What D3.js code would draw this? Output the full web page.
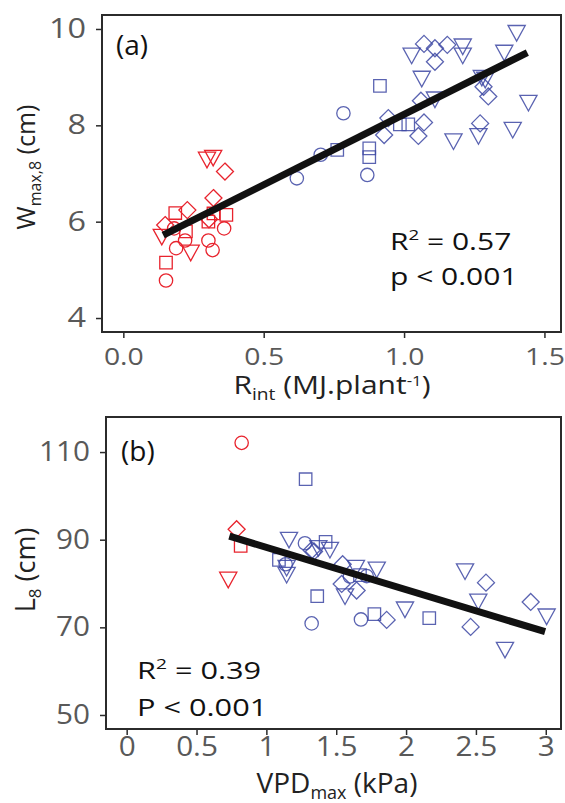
<!DOCTYPE html>
<html><head><meta charset="utf-8">
<script src="https://cdn.jsdelivr.net/npm/d3@7"></script>
<style>body{margin:0;background:#fff}svg{display:block}</style>
</head><body>
<script>
// ---------- Panel (a) data ----------
const aX = [0.298,0.320,0.362,0.321,0.228,0.149,0.305,0.185,0.223,0.152,0.321,0.367,0.303,0.181,0.188,0.220,0.152,0.359,0.303,0.318,0.137,0.240,
  0.618,0.703,0.784,0.869,0.762,0.914,0.876,0.876,0.985,1.015,0.944,0.929,1.060,1.071,1.051,1.071,1.110,1.110,1.154,1.271,1.300,1.283,
  1.110,1.063,1.027,1.209,1.209,1.176,1.265,1.277,1.289,1.357,1.401,1.443,1.387];
const aY = [7.28,7.32,7.04,6.49,6.24,5.93,6.05,6.18,5.80,5.15,6.17,6.14,6.00,5.86,5.45,5.61,4.78,5.86,5.61,5.41,5.68,5.35,
  6.90,7.39,8.25,6.97,7.49,8.82,7.52,7.34,8.02,8.02,8.15,7.80,8.51,8.06,7.78,9.69,9.60,9.32,9.67,8.04,8.60,8.80,
  8.53,8.96,9.44,9.63,9.44,7.66,7.77,8.98,8.94,9.50,9.91,8.46,7.90];
const aShape = ["v","v","d","d","d","d","d","s","s","s","s","s","s","o","o","o","o","o","o","o","v","v",
  "o","o","o","o","s","s","s","s","s","s","d","d","d","d","d","d","d","d","d","d","d","d",
  "v","v","v","v","v","v","v","v","v","v","v","v","v"];
const aGroup = aX.map((_, i) => i < 22 ? "red" : "blue");
const aLineX = [0.142, 1.439];
const aLineY = [5.72, 9.51];
const aXTicks = [0.0, 0.5, 1.0, 1.5];
const aYTicks = [4, 6, 8, 10];

// ---------- Panel (b) data ----------
const bX = [0.823,0.787,0.816,0.727,
  1.281,1.162,1.276,1.324,1.090,1.138,1.145,1.145,1.372,1.424,1.455,1.341,1.546,1.641,1.790,1.718,1.670,1.598,1.539,1.563,1.646,1.364,
  1.324,1.677,1.773,1.861,1.992,2.166,2.422,2.572,2.517,2.462,2.892,3.006,2.708];
const bY = [112.1,92.4,88.6,80.8,
  103.8,89.9,89.2,87.6,85.4,84.4,81.9,83.5,88.0,89.5,87.6,87.3,84.4,83.5,83.1,81.7,81.9,81.6,79.9,77.0,78.4,77.1,
  70.9,71.8,73.0,71.7,74.0,72.1,82.7,80.2,75.8,70.1,75.8,72.4,64.8];
const bShape = ["o","d","s","v",
  "s","v","o","d","s","o","v","v","v","s","v","d","d","v","v","o","s","o","d","v","d","s",
  "o","o","s","d","v","s","v","d","v","d","d","v","v"];
const bGroup = bX.map((_, i) => i < 4 ? "red" : "blue");
const bLineX = [0.735, 2.995];
const bLineY = [90.8, 69.0];
const bXTicks = [0, 0.5, 1, 1.5, 2, 2.5, 3];
const bYTicks = [50, 70, 90, 110];

const colors = {red: "#e8232d", blue: "#3d48a3"};
const FONT = "'Open Sans', sans-serif";

const W = 565, H = 803;
const svg = d3.select("body").append("svg").attr("width", W).attr("height", H);

function markerPath(shape) {
  if (shape === "o") return d3.symbol(d3.symbolCircle, 140)();
  if (shape === "s") return d3.symbol(d3.symbolSquare, 155)();
  if (shape === "d") { const h = 8.5; return `M0,${-h}L${h},0L0,${h}L${-h},0Z`; }
  const w = 8.6, hh = 7.8;
  return `M${-w},${-hh}L${w},${-hh}L0,${hh}Z`;
}

function stretchTicks(sel, sx) {
  sel.selectAll("text").each(function() {
    const t = d3.select(this);
    const x0 = +t.attr("x") || 0;
    t.attr("x", x0 / sx).attr("transform", `scale(${sx},1)`);
  });
}

function panel(cfg) {
  const g = svg.append("g");
  const x = d3.scaleLinear().domain(cfg.xDom).range([cfg.left, cfg.right]);
  const y = d3.scaleLinear().domain(cfg.yDom).range([cfg.bottom, cfg.top]);

  g.append("g").selectAll("path").data(cfg.xs.map((v, i) => i)).join("path")
    .attr("d", i => markerPath(cfg.shapes[i]))
    .attr("transform", i => `translate(${x(cfg.xs[i])},${y(cfg.ys[i])})`)
    .attr("fill", "none")
    .attr("stroke", i => colors[cfg.groups[i]])
    .attr("stroke-opacity", i => cfg.groups[i] === "blue" ? 0.85 : 1)
    .attr("stroke-width", 1.3);

  g.append("line")
    .attr("x1", x(cfg.lineX[0])).attr("y1", y(cfg.lineY[0]))
    .attr("x2", x(cfg.lineX[1])).attr("y2", y(cfg.lineY[1]))
    .attr("stroke", "#111").attr("stroke-width", 7);

  g.append("rect").attr("x", cfg.left).attr("y", cfg.top)
    .attr("width", cfg.right - cfg.left).attr("height", cfg.bottom - cfg.top)
    .attr("fill", "none").attr("stroke", "#2b2b2b").attr("stroke-width", 2);

  const ya = g.append("g").attr("transform", `translate(${cfg.left - 1},0)`)
    .call(d3.axisLeft(y).tickValues(cfg.yTicks).tickSize(5).tickPadding(cfg.yPad).tickFormat(d3.format("d")));
  ya.select(".domain").remove();
  ya.selectAll("line").attr("stroke", "#2b2b2b").attr("stroke-width", 1.5);
  ya.selectAll("text").attr("font-family", FONT).attr("font-size", cfg.yFont).attr("fill", "#595959");
  stretchTicks(ya, cfg.ySx);

  const xa = g.append("g").attr("transform", `translate(0,${cfg.bottom + 1})`)
    .call(d3.axisBottom(x).tickValues(cfg.xTicks).tickSize(5).tickPadding(cfg.xPad).tickFormat(cfg.xFmt));
  xa.select(".domain").remove();
  xa.selectAll("line").attr("stroke", "#2b2b2b").attr("stroke-width", 1.5);
  xa.selectAll("text").attr("font-family", FONT).attr("font-size", cfg.xFont).attr("fill", "#595959");
  stretchTicks(xa, cfg.xSx);

  return {g, x, y};
}

panel({
  xs: aX, ys: aY, shapes: aShape, groups: aGroup, lineX: aLineX, lineY: aLineY,
  xDom: [-0.076, 1.559], yDom: [3.71, 10.29],
  left: 102, right: 561, top: 15, bottom: 332,
  xTicks: aXTicks, yTicks: aYTicks, xFmt: d3.format(".1f"),
  yFont: 27, xFont: 24, yPad: 10, xPad: 10, ySx: 1.2, xSx: 1.18
});
panel({
  xs: bX, ys: bY, shapes: bShape, groups: bGroup, lineX: bLineX, lineY: bLineY,
  xDom: [-0.148, 3.109], yDom: [46.8, 118.0],
  left: 106, right: 561, top: 417, bottom: 729,
  xTicks: bXTicks, yTicks: bYTicks, xFmt: d => String(d),
  yFont: 27, xFont: 27, yPad: 10, xPad: 2, ySx: 1.1, xSx: 1.1
});

function txt(x, y, size, fill, anchor, sx) {
  return svg.append("text").attr("x", 0).attr("y", 0)
    .attr("transform", `translate(${x},${y}) scale(${sx || 1},1)`)
    .attr("font-family", FONT)
    .attr("font-size", size).attr("fill", fill).attr("text-anchor", anchor || "start");
}

txt(116, 55, 28, "#111").text("(a)");
txt(121, 461, 28, "#111").text("(b)");

let t = txt(390, 250, 24, "#111", "start", 1.25);
t.append("tspan").text("R");
t.append("tspan").attr("font-size", 15).attr("dy", -10).text("2");
t.append("tspan").attr("dy", 10).text(" = 0.57");
txt(390, 285, 24, "#111", "start", 1.25).text("p < 0.001");

t = txt(137, 679, 24, "#111", "start", 1.28);
t.append("tspan").text("R");
t.append("tspan").attr("font-size", 15).attr("dy", -10).text("2");
t.append("tspan").attr("dy", 10).text(" = 0.39");
txt(137, 716, 24, "#111", "start", 1.28).text("P < 0.001");

t = txt(332, 394, 25, "#222", "middle", 1.2);
t.append("tspan").text("R");
t.append("tspan").attr("font-size", 16).attr("dy", 6).text("int");
t.append("tspan").attr("dy", -6).text(" (MJ.plant");
t.append("tspan").attr("font-size", 14).attr("dy", -8).text("-1");
t.append("tspan").attr("dy", 8).text(")");

t = txt(0, 0, 25, "#222", "middle").attr("transform", "translate(35,167) rotate(-90)");
t.append("tspan").text("W");
t.append("tspan").attr("font-size", 16).attr("dy", 6).text("max,8");
t.append("tspan").attr("dy", -6).text(" (cm)");

t = txt(337, 793, 28, "#222", "middle");
t.append("tspan").text("VPD");
t.append("tspan").attr("font-size", 18).attr("dy", 6).text("max");
t.append("tspan").attr("dy", -6).text(" (kPa)");

t = txt(0, 0, 27, "#222", "middle").attr("transform", "translate(35,570) rotate(-90)");
t.append("tspan").text("L");
t.append("tspan").attr("font-size", 17).attr("dy", 6).text("8");
t.append("tspan").attr("dy", -6).text(" (cm)");
</script>
</body></html>
